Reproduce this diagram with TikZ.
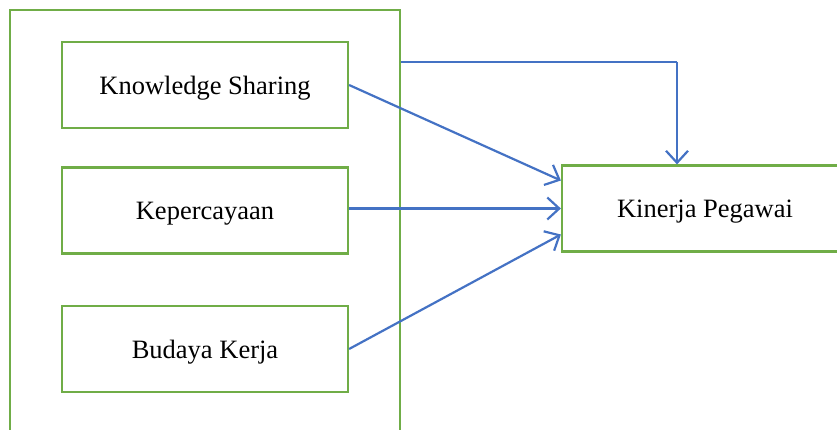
\documentclass[tikz,border=0pt]{standalone}
\usepackage{fontspec}
\setmainfont{Liberation Serif}
\usetikzlibrary{arrows.meta}
\definecolor{gr}{HTML}{70AD47}
\definecolor{bl}{HTML}{4472C4}
\tikzset{
  box/.style={draw=gr, line width=2.2pt, minimum width=286pt, minimum height=86pt, inner sep=0pt, text depth=0pt, font=\fontsize{26.5}{30}\selectfont},
  link/.style={draw=bl, line width=2.2pt, -{Straight Barb[length=12pt, width=22pt, line width=2.2pt]}},
}
\begin{document}
\begin{tikzpicture}[x=1pt,y=-1pt]
\useasboundingbox (0,0) rectangle (837,430);
\node[draw=gr, line width=2.2pt, minimum width=390pt, minimum height=440pt, inner sep=0pt] (outer) at (205,230) {};
\node[box] (ks) at (205,85) {Knowledge Sharing};
\node[box] (kp) at (205,210.5) {Kepercayaan};
\node[box] (bk) at (205,349) {Budaya Kerja};
\node[box] (kin) at (705,208.5) {Kinerja Pegawai};
\coordinate (tx) at (677,62);
\draw[bl, line width=1.4pt] (outer.east |- tx) -- (tx);
\draw[link] (tx) -- (tx |- kin.north);
\draw[link] (ks.east) -- ([yshift=28pt]kin.west);
\draw[link] ([yshift=2pt]kp.east) -- ([yshift=2pt]kp.east -| kin.west);
\draw[link] (bk.east) -- ([yshift=-26pt]kin.west);
\end{tikzpicture}
\end{document}
